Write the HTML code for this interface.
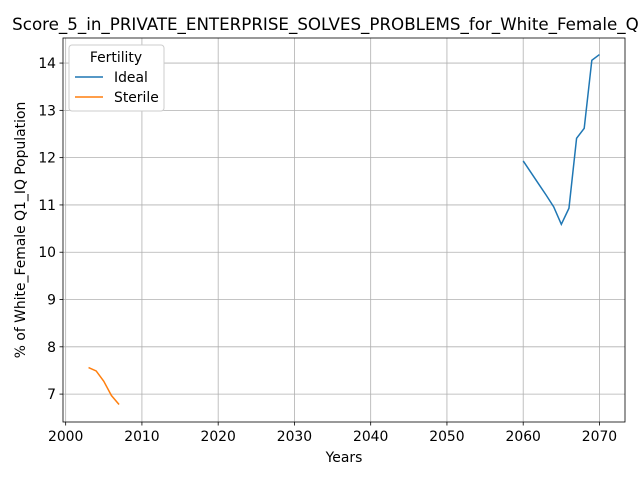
<!DOCTYPE html>
<html><head><meta charset="utf-8"><style>
body{margin:0;background:#fff;}
svg{display:block;font-family:"DejaVu Sans","Liberation Sans",sans-serif;}
</style></head><body>
<svg id="chart" width="640" height="480"></svg>
<script>
const xTicks=[2000,2010,2020,2030,2040,2050,2060,2070];
const yTicks=[7,8,9,10,11,12,13,14];
const idealYears=[2060,2061,2062,2063,2064,2065,2066,2067,2068,2069,2070];
const idealValues=[11.93,11.69,11.45,11.21,10.96,10.59,10.93,12.41,12.62,14.06,14.18];
const sterileYears=[2003,2004,2005,2006,2007];
const sterileValues=[7.56,7.49,7.27,6.97,6.78];
const L=63,R=625,T=38,B=422;
const x0=1999.65,x1=2073.35,y0=6.41,y1=14.53;
function sx(v){return L+(v-x0)/(x1-x0)*(R-L);}
function sy(v){return B-(v-y0)/(y1-y0)*(B-T);}
const svg=document.getElementById('chart');
const NS='http://www.w3.org/2000/svg';
function mk(t,a,txt){const e=document.createElementNS(NS,t);for(const k in a)e.setAttribute(k,a[k]);if(txt!==undefined)e.textContent=txt;svg.appendChild(e);return e;}
let e;
e=mk('rect',{x:L,y:T,width:R-L,height:B-T,fill:'#fff'});


xTicks.forEach(t=>{const x=sx(t);
e=mk('line',{x1:x,x2:x,y1:T,y2:B,stroke:'#b0b0b0','stroke-width':0.8});


mk('line',{x1:x,x2:x,y1:B,y2:B+3.5,stroke:'#000','stroke-width':0.8});
e=mk('text',{x:x,y:B+19,'font-size':13.9,'text-anchor':'middle'},String(t));

});
yTicks.forEach(t=>{const y=sy(t);
e=mk('line',{x1:L,x2:R,y1:y,y2:y,stroke:'#b0b0b0','stroke-width':0.8});


mk('line',{x1:L-3.5,x2:L,y1:y,y2:y,stroke:'#000','stroke-width':0.8});
e=mk('text',{x:L-7,y:y+5,'font-size':13.9,'text-anchor':'end'},String(t));

});
function line(xs,ys,c,n){const p=xs.map((v,i)=>sx(v)+','+sy(ys[i])).join(' ');
e=mk('polyline',{points:p,fill:'none',stroke:c,'stroke-width':1.5});

}
line(idealYears,idealValues,'#1f77b4','ideal-line');
line(sterileYears,sterileValues,'#ff7f0e','sterile-line');
e=mk('rect',{x:L,y:T,width:R-L,height:B-T,fill:'none',stroke:'#000','stroke-width':0.8});


e=mk('text',{x:344,y:30,'font-size':16.7,'text-anchor':'middle'},'Score_5_in_PRIVATE_ENTERPRISE_SOLVES_PROBLEMS_for_White_Female_Q1_IQ');


e=mk('text',{x:344,y:462,'font-size':13.9,'text-anchor':'middle'},'Years');


e=mk('text',{x:0,y:0,'font-size':13.9,'text-anchor':'middle',transform:'translate(25,230) rotate(-90)'},'% of White_Female Q1_IQ Population');


e=mk('rect',{x:69,y:45,width:95,height:66,fill:'#fff',stroke:'#ccc',rx:3});


e=mk('text',{x:116,y:62,'font-size':13.9,'text-anchor':'middle'},'Fertility');


e=mk('line',{x1:75,x2:103,y1:77,y2:77,stroke:'#1f77b4','stroke-width':1.5});


e=mk('text',{x:114,y:82,'font-size':13.9},'Ideal');


e=mk('line',{x1:75,x2:103,y1:97,y2:97,stroke:'#ff7f0e','stroke-width':1.5});


e=mk('text',{x:114,y:102,'font-size':13.9},'Sterile');


</script>
</body></html>
